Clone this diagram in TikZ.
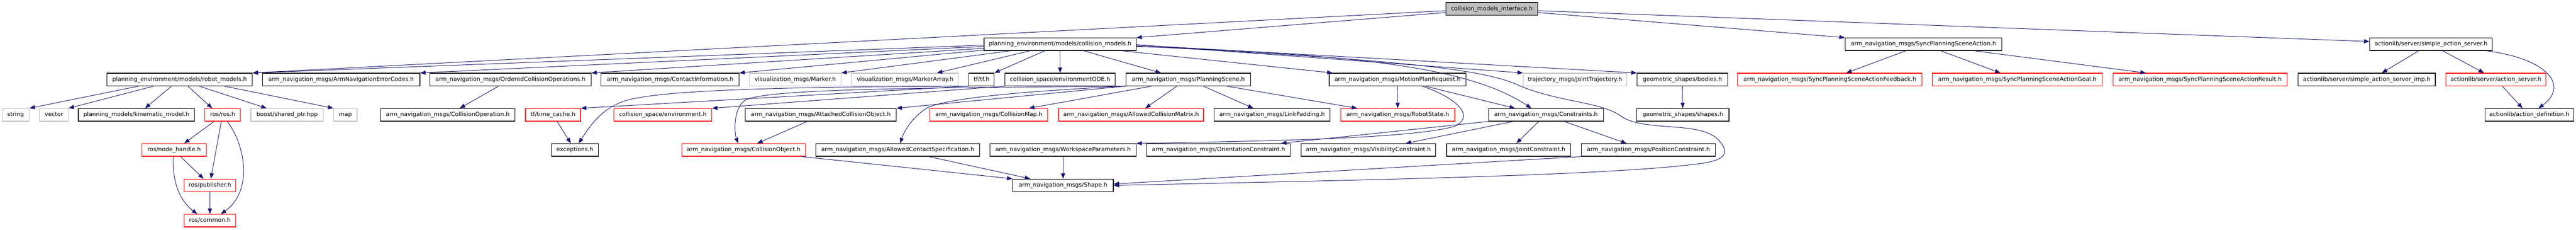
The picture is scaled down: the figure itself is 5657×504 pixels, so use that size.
\documentclass[tikz,border=0pt]{standalone}
\usepackage{fontspec}
\setmainfont{DejaVu Sans}
\usetikzlibrary{arrows.meta}
\definecolor{edgeblue}{HTML}{191970}
\definecolor{nodered}{HTML}{FF0000}
\definecolor{nodegrey}{HTML}{BFBFBF}
\tikzstyle{header} = [rectangle, draw=black, line width=1.3pt, minimum height=27.7pt,
    inner sep=0pt, text height=9.4pt, text depth=2.9pt, font=\fontsize{12.7}{14}\selectfont]
\tikzstyle{sysheader} = [header, draw=nodegrey]
\tikzstyle{cutheader} = [header, draw=nodered]
\tikzstyle{rootheader} = [header, fill=nodegrey]
\tikzstyle{arrow} = [line width=1.1pt, draw=edgeblue, -{Triangle[length=12pt,width=9pt]}]

\begin{document}
\begin{tikzpicture}[x=1pt, y=-1pt]
                \path [use as bounding box, fill=white] (0,0) rectangle (5657,504);

                % row 0 and 1
                \node (cmi) [rootheader, minimum width=202pt] at (3276,19.5) {collision\_models\_interface.h};
                \node (cm) [header, minimum width=334pt] at (2328,97) {planning\_environment/models/collision\_models.h};
                \node (spsa) [header, minimum width=344pt] at (4224,97) {arm\_navigation\_msgs/SyncPlanningSceneAction.h};
                \node (sas) [header, minimum width=269pt] at (5338.5,97) {actionlib/server/simple\_action\_server.h};

                % row 2
                \node (robmod) [header, minimum width=319pt] at (394.5,174.5) {planning\_environment/models/robot\_models.h};
                \node (errcodes) [header, minimum width=346pt] at (749,174.5) {arm\_navigation\_msgs/ArmNavigationErrorCodes.h};
                \node (ordcoll) [header, minimum width=354pt] at (1121,174.5) {arm\_navigation\_msgs/OrderedCollisionOperations.h};
                \node (contact) [header, minimum width=303pt] at (1471.5,174.5) {arm\_navigation\_msgs/ContactInformation.h};
                \node (marker) [sysheader, minimum width=201pt] at (1746.5,174.5) {visualization\_msgs/Marker.h};
                \node (markarr) [sysheader, minimum width=235pt] at (1987.5,174.5) {visualization\_msgs/MarkerArray.h};
                \node (tf) [header, minimum width=55pt] at (2155.5,174.5) {tf/tf.h};
                \node (envode) [header, minimum width=242pt] at (2328,174.5) {collision\_space/environmentODE.h};
                \node (pscene) [header, minimum width=273pt] at (2609.5,174.5) {arm\_navigation\_msgs/PlanningScene.h};
                \node (mpr) [header, minimum width=300pt] at (3069,174.5) {arm\_navigation\_msgs/MotionPlanRequest.h};
                \node (jtraj) [sysheader, minimum width=227pt] at (3458.5,174.5) {trajectory\_msgs/JointTrajectory.h};
                \node (bodies) [header, minimum width=199pt] at (3694.5,174.5) {geometric\_shapes/bodies.h};
                \node (feedback) [cutheader, minimum width=405pt] at (4018.5,174.5) {arm\_navigation\_msgs/SyncPlanningSceneActionFeedback.h};
                \node (goal) [cutheader, minimum width=374pt] at (4430,174.5) {arm\_navigation\_msgs/SyncPlanningSceneActionGoal.h};
                \node (result) [cutheader, minimum width=383pt] at (4831.5,174.5) {arm\_navigation\_msgs/SyncPlanningSceneActionResult.h};
                \node (sasimp) [header, minimum width=301pt] at (5197.5,174.5) {actionlib/server/simple\_action\_server\_imp.h};
                \node (actsrv) [cutheader, minimum width=220pt] at (5481,174.5) {actionlib/server/action\_server.h};

                % row 3
                \node (string) [sysheader, minimum width=59pt] at (34.5,252) {string};
                \node (vector) [sysheader, minimum width=63pt] at (118.5,252) {vector};
                \node (kinmod) [header, minimum width=255pt] at (299.5,252) {planning\_models/kinematic\_model.h};
                \node (rosh) [cutheader, minimum width=78pt] at (489,252) {ros/ros.h};
                \node (shptr) [sysheader, minimum width=159pt] at (630.5,252) {boost/shared\_ptr.hpp};
                \node (map) [sysheader, minimum width=51pt] at (758.5,252) {map};
                \node (collop) [header, minimum width=295pt] at (983.5,252) {arm\_navigation\_msgs/CollisionOperation.h};
                \node (timecache) [cutheader, minimum width=121pt] at (1214.5,252) {tf/time\_cache.h};
                \node (env) [cutheader, minimum width=215pt] at (1455.5,252) {collision\_space/environment.h};
                \node (attobj) [header, minimum width=331pt] at (1802.5,252) {arm\_navigation\_msgs/AttachedCollisionObject.h};
                \node (collmap) [cutheader, minimum width=259pt] at (2171.5,252) {arm\_navigation\_msgs/CollisionMap.h};
                \node (acm) [cutheader, minimum width=318pt] at (2484,252) {arm\_navigation\_msgs/AllowedCollisionMatrix.h};
                \node (linkpad) [header, minimum width=255pt] at (2793.5,252) {arm\_navigation\_msgs/LinkPadding.h};
                \node (robstate) [cutheader, minimum width=251pt] at (3069.5,252) {arm\_navigation\_msgs/RobotState.h};
                \node (constr) [header, minimum width=252pt] at (3395,252) {arm\_navigation\_msgs/Constraints.h};
                \node (shapes) [header, minimum width=203pt] at (3695.5,252) {geometric\_shapes/shapes.h};
                \node (actdef) [header, minimum width=195pt] at (5554.5,252) {actionlib/action\_definition.h};

                % row 4
                \node (nodeh) [cutheader, minimum width=141pt] at (382.5,329) {ros/node\_handle.h};
                \node (exc) [header, minimum width=103pt] at (1262.5,329) {exceptions.h};
                \node (collobj) [cutheader, minimum width=272pt] at (1633,329) {arm\_navigation\_msgs/CollisionObject.h};
                \node (acs) [header, minimum width=359pt] at (1971.5,329) {arm\_navigation\_msgs/AllowedContactSpecification.h};
                \node (wsp) [header, minimum width=321pt] at (2334.5,329) {arm\_navigation\_msgs/WorkspaceParameters.h};
                \node (orient) [header, minimum width=316pt] at (2676,329) {arm\_navigation\_msgs/OrientationConstraint.h};
                \node (visib) [header, minimum width=296pt] at (3005,329) {arm\_navigation\_msgs/VisibilityConstraint.h};
                \node (jointc) [header, minimum width=272pt] at (3313,329) {arm\_navigation\_msgs/JointConstraint.h};
                \node (posc) [header, minimum width=294pt] at (3620,329) {arm\_navigation\_msgs/PositionConstraint.h};

                % rows 5 and 6
                \node (pub) [cutheader, minimum width=114pt] at (461,406.7) {ros/publisher.h};
                \node (shape) [header, minimum width=221pt] at (2334.5,406.7) {arm\_navigation\_msgs/Shape.h};
                \node (common) [cutheader, minimum width=114pt] at (461,484) {ros/common.h};

                % collision_models_interface.h
                \draw [arrow] ([yshift=-4pt]cmi.west) -- (robmod.north east);
                \draw [arrow] ([yshift=-8pt]cmi.west) -- (cm.north east);
                \draw [arrow] ([yshift=-8pt]cmi.east) -- (spsa.north west);
                \draw [arrow] ([yshift=-4pt]cmi.east) -- ([yshift=6pt]sas.west);

                % collision_models.h
                \draw [arrow] ([yshift=-2pt]cm.west) -- (robmod.north east);
                \draw [arrow] ([yshift=-5pt]cm.west) -- (errcodes.north east);
                \draw [arrow] ([yshift=-9pt]cm.west) -- (ordcoll.north east);
                \draw [arrow] ([yshift=-13pt]cm.west) -- (contact.north east);
                \draw [arrow] ([xshift=59pt]cm.south west) -- (marker.north east);
                \draw [arrow] ([xshift=102pt]cm.south west) -- ([xshift=70pt]markarr.north);
                \draw [arrow] ([xshift=134pt]cm.south west) -- (tf.north east);
                \draw [arrow] (cm.south) -- (envode.north);
                \draw [arrow] ([xshift=52pt]cm.south) -- ([xshift=-60pt]pscene.north);
                \draw [arrow] ([xshift=-32pt]cm.south east) -- ([xshift=8pt]mpr.north west);
                \draw [arrow] ([yshift=-1pt]cm.east) -- (jtraj.north west);
                \draw [arrow] ([yshift=-2pt]cm.east) -- (bodies.north west);
                \draw [arrow] ([yshift=-5pt]cm.east) .. controls (3000,120) and (3230,150) .. ([xshift=-32pt]constr.north);
                \draw [arrow] ([yshift=-4pt]cm.east) .. controls (3050,130) and (3250,150) .. (3330,185)
                    .. controls (3420,225) and (3515,222) .. (3560,255)
                    .. controls (3610,290) and (3730,265) .. (3772,305)
                    .. controls (3800,335) and (3790,350) .. (3740,358)
                    .. controls (3550,385) and (3000,395) .. (shape.east);

                % PlanningScene.h
                \draw [arrow] (pscene.south west) .. controls (2000,193) and (1700,195) .. (1640,218)
                    .. controls (1610,232) and (1612,290) .. ([xshift=-12pt]collobj.north);
                \draw [arrow] (pscene.south west) -- (attobj.north east);
                \draw [arrow] (pscene.south west) .. controls (2250,200) and (2080,215) .. (2035,237)
                    .. controls (2000,260) and (1985,290) .. ([xshift=5pt]acs.north);
                \draw [arrow] ([xshift=57pt]pscene.south west) -- ([xshift=88pt]collmap.north);
                \draw [arrow] ([xshift=-25pt]pscene.south) -- ([xshift=31pt]acm.north);
                \draw [arrow] ([xshift=33pt]pscene.south) -- ([xshift=-41pt]linkpad.north);
                \draw [arrow] ([xshift=-53pt]pscene.south east) -- ([xshift=-89pt]robstate.north);

                % tf, environment, operations
                \draw [arrow] (tf.south west) -- (timecache.north east);
                \draw [arrow] (tf.south west) .. controls (1800,190) and (1500,195) .. (1400,215)
                    .. controls (1330,225) and (1300,270) .. ([xshift=8pt]exc.north);
                \draw [arrow] (envode.south west) -- (env.north east);
                \draw [arrow] ([xshift=-26pt]ordcoll.south) -- ([xshift=26pt]collop.north);
                \draw [arrow] ([xshift=9pt]timecache.south) -- ([xshift=-9pt]exc.north);

                % robot_models.h and ros
                \draw [arrow] ([xshift=-90pt]robmod.south) -- (string.north east);
                \draw [arrow] ([xshift=-57pt]robmod.south) -- (vector.north east);
                \draw [arrow] ([xshift=-18pt]robmod.south) -- ([xshift=19pt]kinmod.north);
                \draw [arrow] ([xshift=18pt]robmod.south) -- ([xshift=-23pt]rosh.north);
                \draw [arrow] ([xshift=43pt]robmod.south) -- ([xshift=-45pt]shptr.north);
                \draw [arrow] ([xshift=98pt]robmod.south) -- (map.north west);
                \draw [arrow] ([xshift=-19pt]rosh.south) -- ([xshift=22pt]nodeh.north);
                \draw [arrow] ([xshift=-3pt]rosh.south) -- ([xshift=2pt]pub.north);
                \draw [arrow] ([xshift=10pt]rosh.south) .. controls (540,320) and (555,420) .. ([xshift=24pt]common.north);
                \draw [arrow] ([xshift=14pt]nodeh.south) -- ([xshift=-14pt]pub.north);
                \draw [arrow] ([xshift=-2pt]nodeh.south) .. controls (378,400) and (395,440) .. ([xshift=-28pt]common.north);
                \draw [arrow] (pub) -- (common);

                % collision objects and shapes
                \draw [arrow] ([xshift=-30pt]attobj.south) -- ([xshift=30pt]collobj.north);
                \draw [arrow] ([xshift=-9pt]collobj.south east) -- (shape.north west);
                \draw [arrow] ([xshift=68pt]acs.south) -- ([xshift=-72pt]shape.north);
                \draw [arrow] (wsp) -- (shape);
                \draw [arrow] (posc.south west) -- ([yshift=3pt]shape.east);

                % MotionPlanRequest.h and Constraints.h
                \draw [arrow] (mpr) -- (robstate);
                \draw [arrow] ([xshift=61pt]mpr.south) -- ([xshift=-68pt]constr.north);
                \draw [arrow] ([xshift=54pt]mpr.south) .. controls (3200,215) and (3240,255) .. (3195,277)
                    .. controls (3100,305) and (2750,310) .. (wsp.north east);
                \draw [arrow] (constr.south west) -- ([xshift=137pt]orient.north);
                \draw [arrow] ([xshift=-72pt]constr.south) -- ([xshift=82pt]visib.north);
                \draw [arrow] ([xshift=-16pt]constr.south) -- ([xshift=17pt]jointc.north);
                \draw [arrow] ([xshift=40pt]constr.south) -- ([xshift=-48pt]posc.north);
                \draw [arrow] (bodies) -- (shapes);

                % actions
                \draw [arrow] ([xshift=-39pt]spsa.south) -- ([xshift=36pt]feedback.north);
                \draw [arrow] ([xshift=38pt]spsa.south) -- ([xshift=-37pt]goal.north);
                \draw [arrow] ([xshift=-61pt]spsa.south east) -- ([xshift=73pt]result.north west);
                \draw [arrow] ([xshift=-27pt]sas.south) -- ([xshift=33pt]sasimp.north);
                \draw [arrow] ([xshift=26pt]sas.south) -- ([xshift=-26pt]actsrv.north);
                \draw [arrow] ([xshift=-13pt]sas.south east) .. controls (5600,130) and (5640,190) .. ([xshift=20pt]actdef.north);
                \draw [arrow] ([xshift=14pt]actsrv.south) -- ([xshift=-15pt]actdef.north);
            \end{tikzpicture}
\end{document}
